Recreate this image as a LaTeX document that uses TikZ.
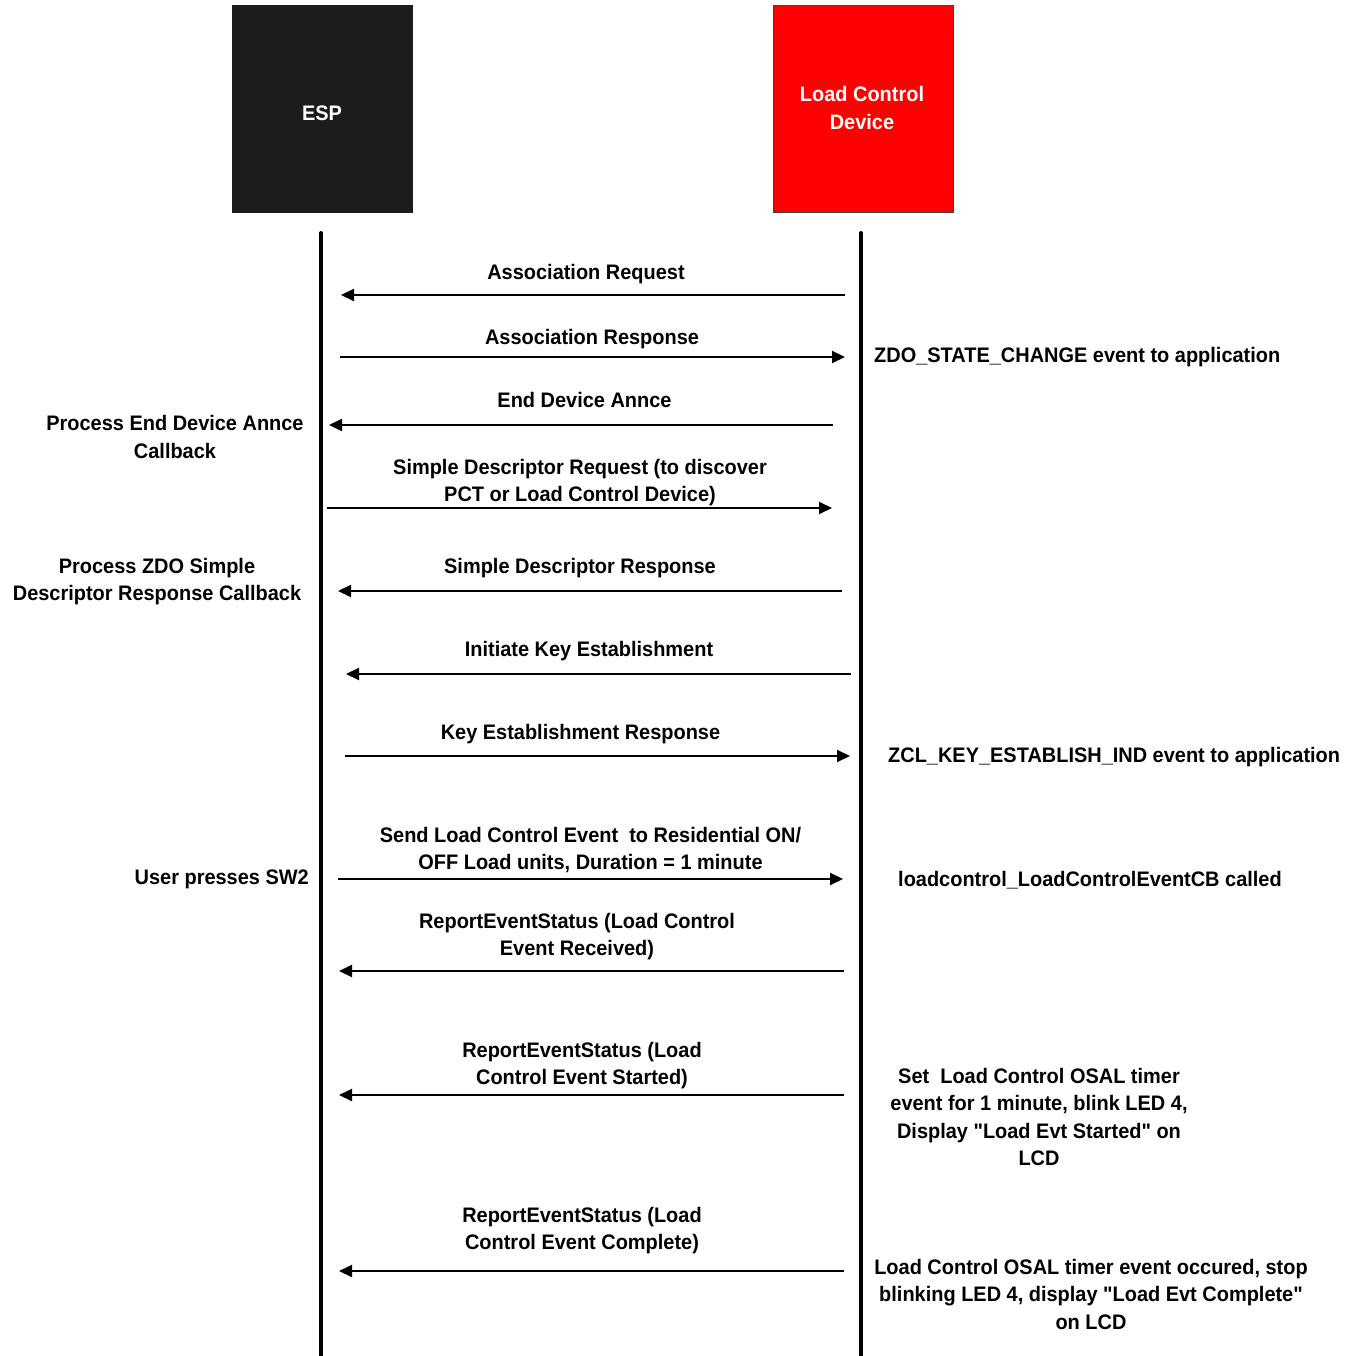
\documentclass[tikz,border=0pt]{standalone}
\usepackage{fontspec}
\setmainfont{Liberation Sans}[FakeStretch=0.95, Ligatures=TeXOff]
\usetikzlibrary{arrows.meta}

\newcommand\lblfont{\fontsize{21}{27.5}\selectfont\bfseries}
\newcommand\stack[1]{\begin{tabular}[t]{@{}c@{}}#1\end{tabular}}

\definecolor{espfill}{HTML}{1C1C1C}
\definecolor{lcdfill}{HTML}{FF0000}
\definecolor{lcdedge}{HTML}{404040}

\tikzset{
  lbl/.style={font=\lblfont, inner sep=0pt, anchor=base},
  actor/.style={minimum width=180pt, minimum height=207pt, inner sep=0pt},
  lifeline/.style={line width=4pt, line cap=round},
  msg/.style={line width=2pt, -{Triangle[length=13pt,width=12pt]}},
}

\begin{document}
\begin{tikzpicture}[x=1pt,y=-1pt]
\useasboundingbox (0,0) rectangle (1361,1356);

% participants
\node[actor, fill=espfill, draw=espfill] (esp) at (322,108.5) {};
\node[lbl, text=white] (esplbl) at (322,121) {ESP};
\node[actor, fill=lcdfill, draw=lcdedge, line width=1pt] (lcd) at (863,109) {};
\node[lbl, text=white] (lcdlbl) at (862,102) {\stack{Load Control\\Device}};

% lifelines
\coordinate (espTop) at (321,233);
\coordinate (espBot) at (321,1358);
\coordinate (lcdTop) at (861,233);
\coordinate (lcdBot) at (861,1358);
\draw[lifeline] (espTop) -- (espBot);
\draw[lifeline] (lcdTop) -- (lcdBot);

% messages
\coordinate (m1s) at (845,295);  \coordinate (m1e) at (341,295);
\coordinate (m2s) at (340,357);  \coordinate (m2e) at (845,357);
\coordinate (m3s) at (833,425);  \coordinate (m3e) at (329,425);
\coordinate (m4s) at (327,508);  \coordinate (m4e) at (832,508);
\coordinate (m5s) at (842,591);  \coordinate (m5e) at (338,591);
\coordinate (m6s) at (851,674);  \coordinate (m6e) at (346,674);
\coordinate (m7s) at (345,756);  \coordinate (m7e) at (850,756);
\coordinate (m8s) at (338,879);  \coordinate (m8e) at (843,879);
\coordinate (m9s) at (844,971);  \coordinate (m9e) at (339,971);
\coordinate (m10s) at (844,1095); \coordinate (m10e) at (339,1095);
\coordinate (m11s) at (844,1271); \coordinate (m11e) at (339,1271);
\foreach \i in {1,...,11} {\draw[msg] (m\i s) -- (m\i e);}

% message labels
\node[lbl] (t1) at (586,280) {Association Request};
\node[lbl] (t2) at (592,345) {Association Response};
\node[lbl] (t3) at (584.5,408) {End Device Annce};
\node[lbl] (t4) at (580,474) {\stack{Simple Descriptor Request (to discover\\PCT or Load Control Device)}};
\node[lbl] (t5) at (580,573) {Simple Descriptor Response};
\node[lbl] (t6) at (589,656) {Initiate Key Establishment};
\node[lbl] (t7) at (580.5,739) {Key Establishment Response};
\node[lbl] (t8) at (590.5,842) {\stack{Send Load Control Event\ \ to Residential ON/\\OFF Load units, Duration = 1 minute}};
\node[lbl] (t9) at (577,928) {\stack{ReportEventStatus (Load Control\\Event Received)}};
\node[lbl] (t10) at (582,1057) {\stack{ReportEventStatus (Load\\Control Event Started)}};
\node[lbl] (t11) at (582,1222) {\stack{ReportEventStatus (Load\\Control Event Complete)}};

% ESP side notes
\node[lbl] (n1) at (175,431) {\stack{Process End Device Annce\\Callback}};
\node[lbl] (n2) at (157,573) {\stack{Process ZDO Simple\\Descriptor Response Callback}};
\node[lbl, anchor=base east] (n3) at (309,884) {User presses SW2};

% device side notes
\node[lbl, anchor=base west] (d1) at (874,363) {ZDO\_STATE\_CHANGE event to application};
\node[lbl, anchor=base west] (d2) at (888,762) {ZCL\_KEY\_ESTABLISH\_IND event to application};
\node[lbl, anchor=base west] (d3) at (898,886) {loadcontrol\_LoadControlEventCB called};
\node[lbl] (d4) at (1039,1083) {\stack{Set\ \ Load Control OSAL timer\\event for 1 minute, blink LED 4,\\Display "Load Evt Started" on\\LCD}};
\node[lbl] (d5) at (1091,1274) {\stack{Load Control OSAL timer event occured, stop\\blinking LED 4, display "Load Evt Complete"\\on LCD}};
\end{tikzpicture}
\end{document}
